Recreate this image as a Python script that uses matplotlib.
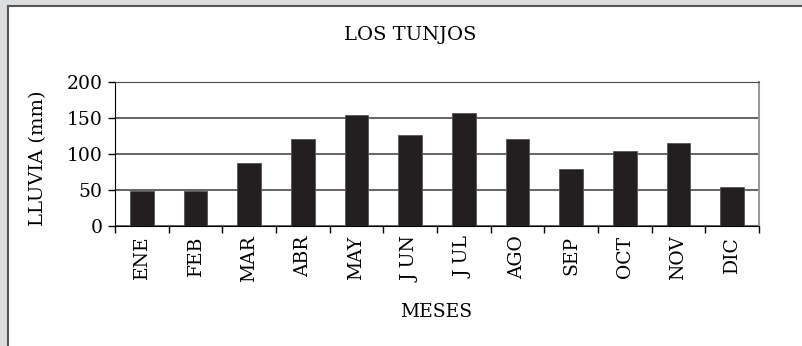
import numpy as np
import matplotlib.pyplot as plt
from matplotlib.patches import Rectangle
from matplotlib.lines import Line2D

meses = ['ENE', 'FEB', 'MAR', 'ABR', 'MAY', 'J UN', 'J UL', 'AGO', 'SEP', 'OCT', 'NOV', 'DIC']
lluvia = [49, 49, 87, 121, 154, 126, 157, 121, 79, 104, 115, 54]
yticks = [0, 50, 100, 150, 200]

plt.rcParams['font.family'] = 'DejaVu Serif'

W, H = 802, 346
fig = plt.figure(figsize=(W / 100, H / 100), dpi=100)
fig.patch.set_facecolor('#dcdddf')

# white panel with dark border on top/left
fig.patches.append(Rectangle((8 / W, 0), 1, 1 - 6 / H, transform=fig.transFigure,
                             facecolor='white', edgecolor='none', zorder=-2))
fig.lines.append(Line2D([8 / W, 8 / W], [0, 1 - 6 / H], transform=fig.transFigure,
                        color='#555555', lw=1.5, zorder=-1))
fig.lines.append(Line2D([8 / W, 1], [1 - 6 / H, 1 - 6 / H], transform=fig.transFigure,
                        color='#555555', lw=1.5, zorder=-1))

ax = fig.add_axes([115 / W, 1 - 226 / H, (759 - 115) / W, (226 - 82) / H])
ax.set_zorder(1)
x = np.arange(len(meses))
ax.bar(x, lluvia, width=0.44, color='#231f20', edgecolor='#555555', linewidth=0.6, zorder=3)

ax.set_xlim(-0.5, len(meses) - 0.5)
ax.set_ylim(0, 200)
ax.set_yticks(yticks)
ax.set_yticklabels([str(v) for v in yticks], fontsize=13.5)
ax.yaxis.grid(True, color='#4a4a4a', lw=1.2, zorder=1)
ax.set_axisbelow(True)

# tick marks on category boundaries, labels centered under the bars
ax.set_xticks(np.arange(len(meses) + 1) - 0.5)
ax.set_xticklabels([])
ax.set_xticks(x, minor=True)
ax.set_xticklabels(meses, minor=True, rotation=90, fontsize=13.5, va='top')
ax.tick_params(axis='x', which='major', length=5, width=1, direction='out', color='black')
ax.tick_params(axis='x', which='minor', length=0, pad=7)
ax.tick_params(axis='y', length=5, width=1, direction='out', pad=4)

ax.spines['left'].set_color('black')
ax.spines['bottom'].set_color('black')
ax.spines['top'].set_color('#4a4a4a')
ax.spines['right'].set_color('#9a9a9a')
ax.spines['right'].set_linewidth(1.5)

fig.text(410 / W, 1 - 35 / H, 'LOS TUNJOS', ha='center', va='center', fontsize=14)
fig.text(436 / W, 1 - 312 / H, 'MESES', ha='center', va='center', fontsize=13.5)
fig.text(38 / W, 1 - 158 / H, 'LLUVIA (mm)', ha='center', va='center', rotation=90, fontsize=14)

fig.savefig('out.png', dpi=100, facecolor=fig.get_facecolor())
